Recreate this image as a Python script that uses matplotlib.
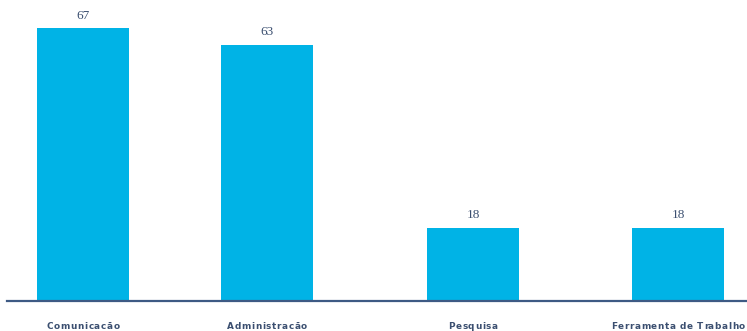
import matplotlib
matplotlib.use("Agg")
import matplotlib.pyplot as plt
from matplotlib.font_manager import FontProperties

# Respostas por categoria
categorias = ["Comunicacão", "Administracão", "Pesquisa", "Ferramenta de Trabalho"]
valores = [67, 63, 18, 18]

BAR_COLOR = "#00b3e6"
AXIS_COLOR = "#3e5a84"
TEXT_COLOR = "#3b4f70"

# posicoes das barras (espacamento irregular do layout original)
posicoes = [0.0, 1.0, 2.12, 3.234]


def spaced_label(ax, x, text, fp, tracking_px, y_px):
    """Escreve um rotulo com espacamento entre letras, centrado em x."""
    fig = ax.figure
    renderer = fig.canvas.get_renderer()
    dpi = fig.dpi

    def width(s):
        if not s:
            return 0.0
        w, _, _ = renderer.get_text_width_height_descent(s, fp, ismath=False)
        return w

    total = width(text) + tracking_px * (len(text) - 1)
    start = -total / 2.0
    for i, ch in enumerate(text):
        off_px = start + width(text[:i]) + tracking_px * i
        ax.annotate(ch, xy=(x, 0), xycoords=("data", "axes fraction"),
                    xytext=(off_px * 72 / dpi, -y_px * 72 / dpi),
                    textcoords="offset points", ha="left", va="center",
                    fontproperties=fp, color=TEXT_COLOR, annotation_clip=False)


fig = plt.figure(figsize=(7.47, 3.31), dpi=100)
ax = fig.add_axes([7 / 747, (331 - 300.7) / 331, 1 - 7 / 747, 300.7 / 331])

ax.bar(posicoes, valores, width=0.5, color=BAR_COLOR, zorder=2)

for x, v in zip(posicoes, valores):
    ax.annotate(str(v), xy=(x, v), xytext=(0, 9), textcoords="offset points",
                ha="center", va="center", fontsize=9.5,
                family="Liberation Serif", color=TEXT_COLOR)

ax.set_xlim(-0.413, 3.609)
ax.set_ylim(0, 74.0)

for side in ["top", "left", "right"]:
    ax.spines[side].set_visible(False)
ax.spines["bottom"].set_color(AXIS_COLOR)
ax.spines["bottom"].set_linewidth(1.6)
ax.spines["bottom"].set_zorder(3)
ax.set_xticks([])
ax.set_yticks([])

label_fp = FontProperties(family="DejaVu Sans", weight="bold", size=6.4)
for x, nome in zip(posicoes, categorias):
    spaced_label(ax, x, nome, label_fp, 0.6, 25.5)

fig.savefig("out.png", dpi=100)
